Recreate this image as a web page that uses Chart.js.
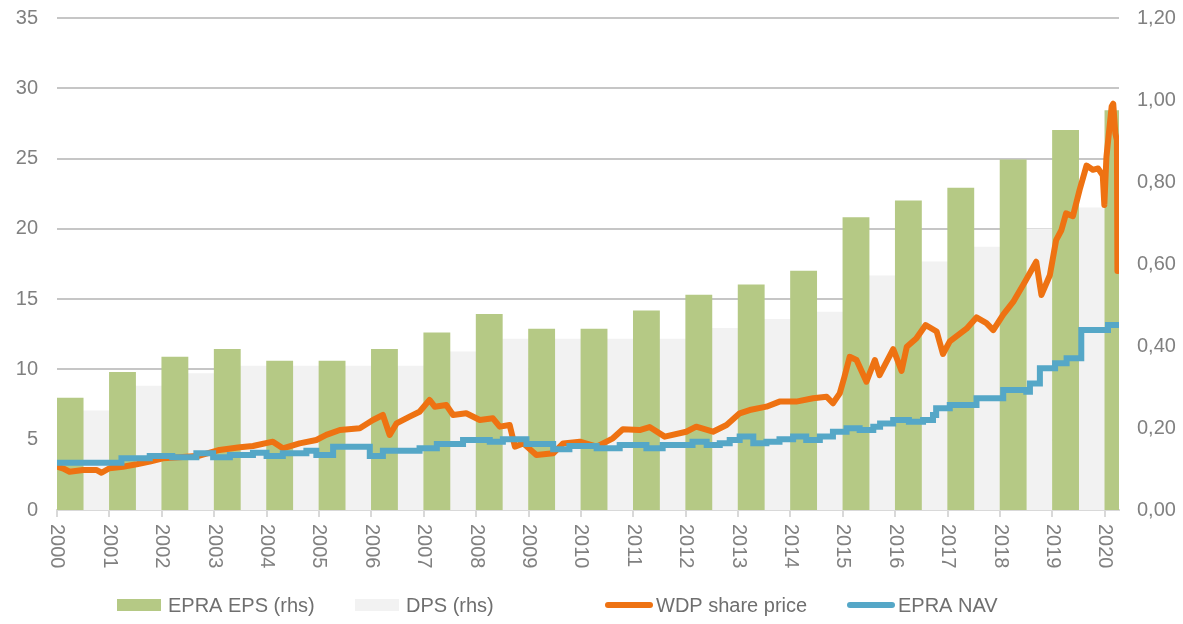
<!DOCTYPE html>
<html>
<head>
<meta charset="utf-8">
<script src="https://cdn.jsdelivr.net/npm/chart.js@4.4.1/dist/chart.umd.min.js"></script>
<style>
  html, body { margin: 0; padding: 0; background: #fff; }
  #wrap { width: 1183px; height: 624px; }
</style>
</head>
<body>
<div id="wrap"><canvas id="chart"></canvas></div>
<script>
// yearly bars (rhs, EUR)
const years = [2000, 2001, 2002, 2003, 2004, 2005, 2006, 2007, 2008, 2009, 2010,
               2011, 2012, 2013, 2014, 2015, 2016, 2017, 2018, 2019, 2020];
const epsValues = [0.273, 0.336, 0.373, 0.392, 0.363, 0.363, 0.392, 0.432, 0.477, 0.441, 0.441,
                   0.486, 0.524, 0.549, 0.583, 0.713, 0.754, 0.785, 0.854, 0.926, 0.974];
const dpsValues = [0.242, 0.302, 0.333, 0.351, 0.351, 0.351, 0.351, 0.386, 0.417, 0.417, 0.417,
                   0.417, 0.443, 0.465, 0.483, 0.571, 0.605, 0.641, 0.686, 0.737, null];

// share price (lhs)
const priceDates = [2000.00, 2000.12, 2000.24, 2000.50, 2000.75, 2000.85, 2001.00, 2001.26, 2001.52, 2001.77,
                    2002.02, 2002.34, 2002.72, 2003.10, 2003.49, 2003.74, 2004.12, 2004.31, 2004.63, 2004.95,
                    2005.14, 2005.40, 2005.78, 2006.03, 2006.22, 2006.35, 2006.48, 2006.73, 2006.92, 2007.11,
                    2007.21, 2007.43, 2007.56, 2007.81, 2008.07, 2008.32, 2008.45, 2008.64, 2008.74, 2008.90,
                    2009.15, 2009.47, 2009.66, 2009.98, 2010.30, 2010.61, 2010.80, 2011.12, 2011.31, 2011.60,
                    2012.01, 2012.20, 2012.52, 2012.78, 2013.03, 2013.22, 2013.54, 2013.79, 2014.11, 2014.43,
                    2014.69, 2014.81, 2014.94, 2015.03, 2015.13, 2015.26, 2015.45, 2015.61, 2015.70, 2015.96,
                    2016.12, 2016.22, 2016.40, 2016.58, 2016.79, 2016.91, 2017.04, 2017.36, 2017.55, 2017.74,
                    2017.87, 2018.06, 2018.25, 2018.47, 2018.69, 2018.79, 2018.95, 2019.07, 2019.17, 2019.26,
                    2019.39, 2019.52, 2019.65, 2019.77, 2019.87, 2019.96, 2019.99, 2020.03, 2020.13, 2020.16,
                    2020.20, 2020.23, 2020.24];
const priceValues = [3.08, 2.95, 2.72, 2.85, 2.85, 2.65, 2.97, 3.08, 3.25, 3.44,
                     3.68, 3.75, 3.86, 4.27, 4.46, 4.55, 4.86, 4.39, 4.74, 4.98,
                     5.34, 5.69, 5.81, 6.40, 6.76, 5.34, 6.16, 6.64, 6.99, 7.83,
                     7.35, 7.47, 6.76, 6.88, 6.40, 6.52, 5.93, 6.05, 4.51, 4.74,
                     3.91, 4.03, 4.74, 4.86, 4.51, 5.10, 5.75, 5.69, 5.90, 5.22,
                     5.57, 5.93, 5.57, 6.05, 6.88, 7.11, 7.35, 7.71, 7.71, 7.95,
                     8.06, 7.59, 8.30, 9.48, 10.90, 10.67, 9.13, 10.67, 9.60, 11.45,
                     9.90, 11.62, 12.20, 13.16, 12.70, 11.10, 12.00, 12.90, 13.70, 13.30,
                     12.80, 13.90, 14.80, 16.20, 17.66, 15.30, 16.70, 19.20, 19.90, 21.10,
                     20.90, 22.80, 24.50, 24.20, 24.30, 23.80, 21.70, 25.10, 28.70, 28.90,
                     26.80, 26.30, 17.00];

// EPRA NAV (lhs), value holds from each date onwards
const navDates = [2000.00, 2001.23, 2001.77, 2002.20, 2002.66, 2002.98, 2003.30, 2003.74, 2004.00, 2004.31,
                  2004.76, 2004.95, 2005.27, 2005.97, 2006.22, 2006.92, 2007.25, 2007.75, 2008.26, 2008.51,
                  2008.96, 2009.47, 2009.78, 2010.30, 2010.74, 2011.25, 2011.56, 2012.13, 2012.40, 2012.65,
                  2012.84, 2013.03, 2013.29, 2013.54, 2013.79, 2014.05, 2014.30, 2014.56, 2014.81, 2015.07,
                  2015.32, 2015.58, 2015.71, 2015.96, 2016.26, 2016.53, 2016.72, 2016.78, 2017.04, 2017.55,
                  2018.06, 2018.50, 2018.57, 2018.76, 2019.05, 2019.27, 2019.55, 2020.06, 2020.27];
const navValues = [3.37, 3.68, 3.84, 3.75, 4.03, 3.75, 3.91, 4.08, 3.84, 4.03,
                   4.22, 3.91, 4.50, 3.84, 4.22, 4.39, 4.69, 4.98, 4.86, 5.04,
                   4.69, 4.32, 4.55, 4.39, 4.62, 4.39, 4.62, 4.86, 4.62, 4.74,
                   4.98, 5.22, 4.74, 4.86, 5.03, 5.22, 4.98, 5.22, 5.57, 5.81,
                   5.69, 5.93, 6.16, 6.40, 6.28, 6.40, 6.76, 7.23, 7.47, 7.95,
                   8.54, 8.42, 9.00, 10.08, 10.44, 10.80, 12.80, 13.16, 13.16];

const fontFamily = "'Liberation Sans', Arial, sans-serif";
const tickColor = "#808080";
const legendColor = "#6f6f6f";
const legendSlots = [117, 355, 605, 847];

// year labels read top-to-bottom, so they are drawn here
const yearLabels = {
  id: "yearLabels",
  afterDraw(chart) {
    const x = chart.scales.x;
    const ctx = chart.ctx;
    ctx.save();
    ctx.fillStyle = tickColor;
    ctx.font = `20px ${fontFamily}`;
    ctx.textAlign = "left";
    ctx.textBaseline = "middle";
    years.forEach(yr => {
      ctx.save();
      ctx.translate(x.getPixelForValue(yr), x.top + 14);
      ctx.rotate(Math.PI / 2);
      ctx.fillText(String(yr), 0, 0);
      ctx.restore();
    });
    ctx.restore();
  }
};

const bottomLegend = {
  id: "bottomLegend",
  afterDraw(chart) {
    const ctx = chart.ctx;
    const y = 605;
    ctx.save();
    chart.data.datasets.forEach((ds, i) => {
      const x = legendSlots[i];
      if (ds.type === "bar") {
        ctx.fillStyle = ds.backgroundColor;
        ctx.fillRect(x, y - 6, 44, 12);
      } else {
        ctx.strokeStyle = ds.borderColor;
        ctx.lineWidth = 6;
        ctx.lineCap = "round";
        ctx.beginPath();
        ctx.moveTo(x + 3, y);
        ctx.lineTo(x + 45, y);
        ctx.stroke();
      }
      ctx.fillStyle = legendColor;
      ctx.font = `20px ${fontFamily}`;
      ctx.textAlign = "left";
      ctx.textBaseline = "middle";
      ctx.fillText(ds.label, x + 51, y + 1);
    });
    ctx.restore();
  }
};

const noPad = s => { s.paddingTop = 0; s.paddingBottom = 0; s.paddingLeft = 0; s.paddingRight = 0; };

new Chart(document.getElementById("chart"), {
  type: "bar",
  data: {
    datasets: [
      {
        type: "bar",
        label: "EPRA EPS (rhs)",
        data: years.map((yr, i) => ({ x: yr + 0.5, y: epsValues[i] })),
        backgroundColor: "#B5C985",
        yAxisID: "y1",
        order: 2,
        categoryPercentage: 1,
        barPercentage: 1,
        borderWidth: 0
      },
      {
        type: "bar",
        label: "DPS (rhs)",
        data: years.map((yr, i) => ({ x: yr + 0.5, y: dpsValues[i] })),
        backgroundColor: "#F2F2F2",
        yAxisID: "y1",
        order: 2,
        categoryPercentage: 1,
        barPercentage: 1,
        borderWidth: 0
      },
      {
        type: "line",
        label: "WDP share price",
        data: priceDates.map((d, i) => ({ x: d, y: priceValues[i] })),
        borderColor: "#EE7212",
        backgroundColor: "#EE7212",
        borderWidth: 6,
        pointRadius: 0,
        borderJoinStyle: "round",
        borderCapStyle: "round",
        yAxisID: "y",
        order: 1
      },
      {
        type: "line",
        label: "EPRA NAV",
        data: navDates.map((d, i) => ({ x: d, y: navValues[i] })),
        borderColor: "#55A7C7",
        backgroundColor: "#55A7C7",
        borderWidth: 6,
        pointRadius: 0,
        stepped: true,
        yAxisID: "y",
        order: 0
      }
    ]
  },
  options: {
    responsive: true,
    maintainAspectRatio: false,
    animation: false,
    layout: { padding: { top: 18, bottom: 54, left: 0, right: 0 } },
    plugins: {
      legend: { display: false },
      tooltip: { enabled: false }
    },
    scales: {
      x: {
        type: "linear",
        min: 2000,
        max: 2020.27,
        offset: false,
        afterBuildTicks: s => { s.ticks = years.map(v => ({ value: v })); },
        afterFit: s => { s.height = 60; noPad(s); },
        ticks: { display: false },
        grid: { offset: false, drawOnChartArea: false, drawTicks: true, tickLength: 7, color: "#d9d9d9", lineWidth: 2 },
        border: { display: true, color: "#d9d9d9", width: 2 }
      },
      y: {
        position: "left",
        min: 0,
        max: 35,
        afterFit: s => { s.width = 57; noPad(s); },
        ticks: { stepSize: 5, color: tickColor, font: { family: fontFamily, size: 20 }, padding: 19 },
        grid: {
          color: c => c.tick.value === 0 ? "rgba(0,0,0,0)" : "#c6c6c6",
          lineWidth: 2,
          drawTicks: false
        },
        border: { display: false }
      },
      y1: {
        position: "right",
        min: 0,
        max: 1.2,
        afterFit: s => { s.width = 64; noPad(s); },
        ticks: {
          stepSize: 0.2,
          color: tickColor,
          font: { family: fontFamily, size: 20 },
          padding: 18,
          callback: v => v.toFixed(2).replace(".", ",")
        },
        grid: { display: false, drawTicks: false },
        border: { display: false }
      }
    }
  },
  plugins: [yearLabels, bottomLegend]
});
</script>
</body>
</html>
